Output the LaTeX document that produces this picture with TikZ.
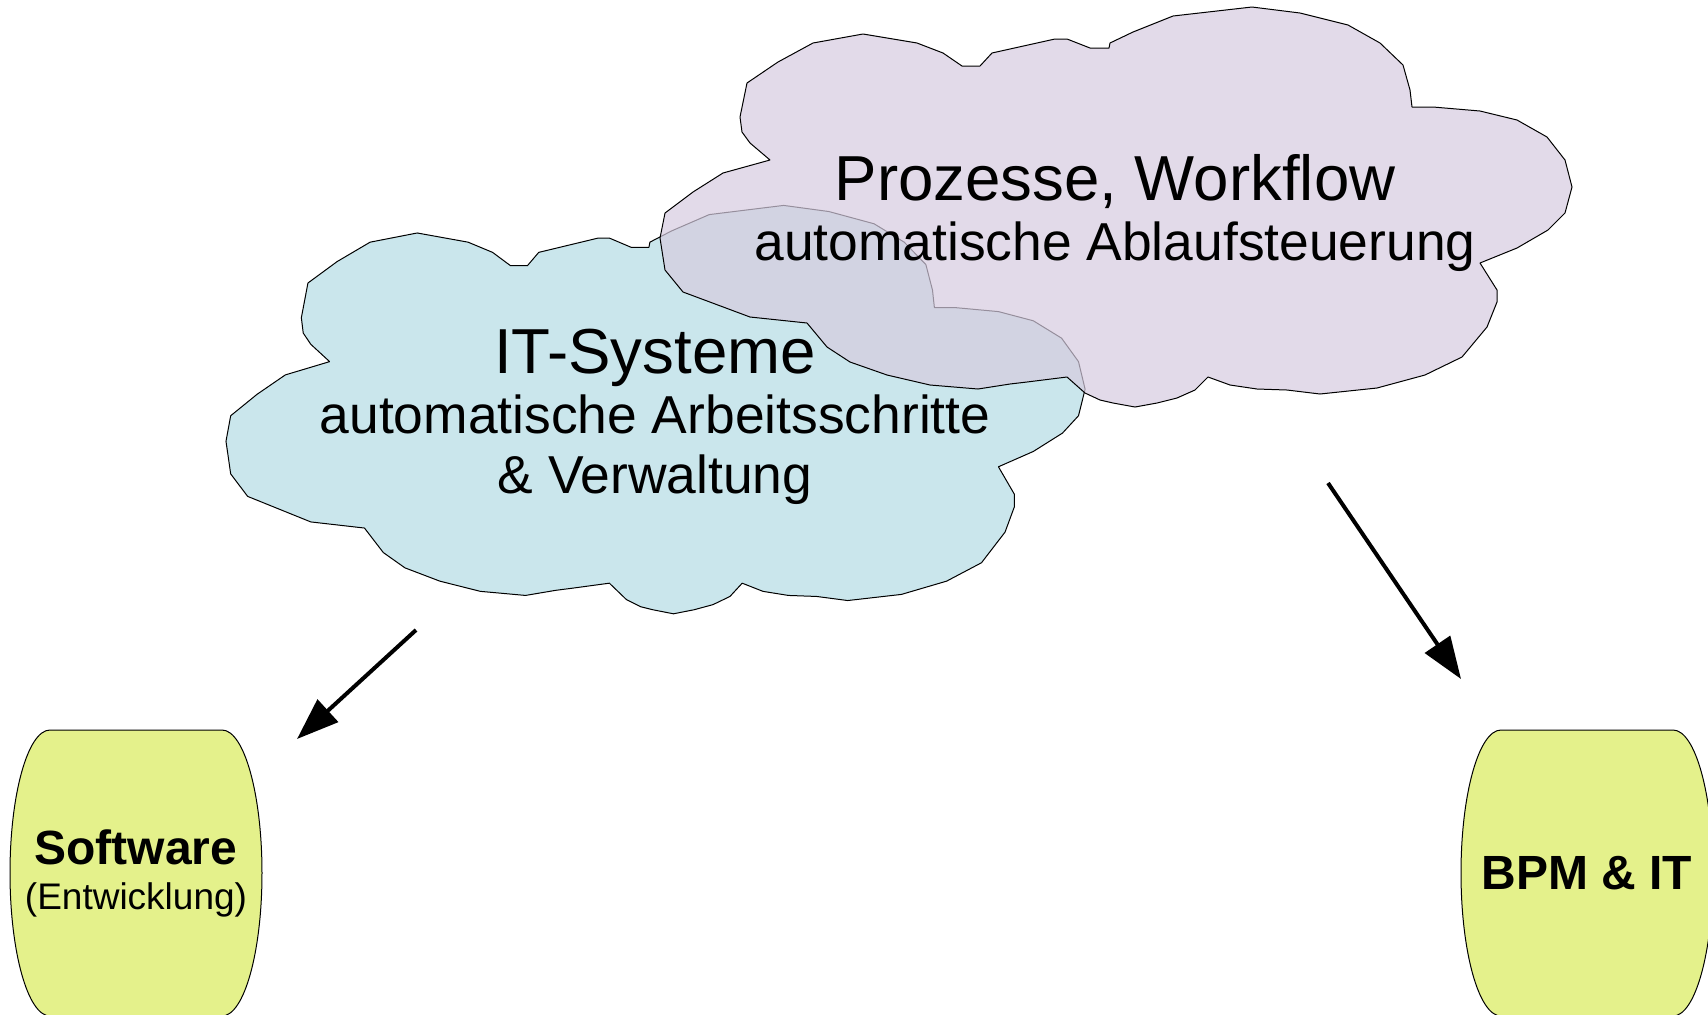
\documentclass[tikz,border=0pt]{standalone}
\usepackage{fontspec}
\setmainfont{Liberation Sans}
\usepackage{tikz}
\usetikzlibrary{arrows.meta, shapes, backgrounds}
\usepackage{xcolor}
\definecolor{paleblue}{RGB}{202,230,236}
\definecolor{lilac}{RGB}{214,203,223}
\definecolor{limegreen}{RGB}{228,241,139}
\tikzset{bluecloud/.style={fill=paleblue, draw=black, line width=0.5pt},
lilaccloud/.style={fill=lilac, draw=black, line width=0.5pt, fill opacity=0.7}}
\tikzset{barrelnode/.style={rectangle, minimum width=86pt, minimum height=143pt, inner sep=0pt, align=center},
barrelfill/.style={fill=limegreen, draw=black, line width=0.5pt}}
\tikzset{cloudshape/.pic={
    \path[pic actions] (-345,-47) -- (-365,-64) -- (-373,-75) -- (-375,-90) -- (-368,-124) -- (-337,-145) -- (-302,-164) -- (-252,-173) -- (-198,-164) -- (-172,-154) -- (-153,-141) -- (-135,-141) -- (-123,-154) -- (-60,-168) -- (-48,-168) -- (-25,-159) -- (-6,-159) -- (-5,-164) -- (18,-175) -- (58,-191) -- (137,-200) -- (185,-194) -- (233,-182) -- (265,-164) -- (288,-142) -- (295,-117) -- (297,-100) -- (318,-100) -- (365,-96) -- (402,-87) -- (432,-70) -- (450,-47) -- (457,-20) -- (450,6) -- (433,23) -- (402,41) -- (365,56) -- (382,83) -- (382,95) -- (372,120) -- (347,150) -- (310,168) -- (262,181) -- (205,187) -- (172,183) -- (142,182) -- (115,178) -- (93,170) -- (80,183) -- (62,191) -- (42,196) -- (20,200) -- (-2,196) -- (-15,193) -- (-30,186) -- (-48,170) -- (-88,175) -- (-105,177) -- (-137,182) -- (-185,178) -- (-228,168) -- (-265,155) -- (-288,140) -- (-308,116) -- (-365,110) -- (-432,85) -- (-450,63) -- (-455,31) -- (-450,6) -- (-422,-15) -- (-392,-34) -- cycle;
}}
\begin{document}
\begin{tikzpicture}[
        x=0.5pt, y=-0.5pt,
        line join=bevel,
        cloudtext/.style={align=center, anchor=base, inner sep=0pt, font=\fontsize{26.7}{30}\selectfont},
        flowarrow/.style={line width=2pt, -{Triangle[length=21pt, width=15pt]}}
    ]
        \useasboundingbox (0,0) rectangle (1708,1014);
        % Clouds
        \pic[bluecloud, xscale=0.942, yscale=1.021] at (654.6,409.6) {cloudshape};
        \pic[lilaccloud] at (1115,207) {cloudshape};
        \node (itsys) [cloudtext] at (655,493) {{\fontsize{31.8}{30}\selectfont IT-Systeme}\\automatische Arbeitsschritte\\\& Verwaltung};
        \node (prozesse) [cloudtext] at (1115,260) {{\fontsize{31.8}{30}\selectfont Prozesse, Workflow}\\automatische Ablaufsteuerung};
        % Barrels
        \node (software) [barrelnode, font=\fontsize{18.5}{22.5}\selectfont] at (136,873) {{\bfseries\fontsize{24}{22.5}\selectfont Software}\\(Entwicklung)};
        \node (bpmit) [barrelnode, font=\bfseries\fontsize{24}{22.5}\selectfont] at (1587,873) {BPM \& IT};
        \begin{scope}[on background layer]
            \foreach \barrel in {software, bpmit} {
                \path[barrelfill] ([xshift=-43pt, yshift=71.5pt]\barrel.center) -- ([xshift=43pt, yshift=71.5pt]\barrel.center) arc[start angle=90, end angle=-90, x radius=20pt, y radius=71.5pt] -- ([xshift=-43pt, yshift=-71.5pt]\barrel.center) arc[start angle=270, end angle=90, x radius=20pt, y radius=71.5pt] -- cycle;
            }
        \end{scope}
        % Arrows
        \coordinate (itfoot) at (416,630);
        \coordinate (swtip) at (297,739);
        \coordinate (prozessefoot) at (1328,483);
        \coordinate (bpmtip) at (1461,679);
        \draw[flowarrow] (itfoot) -- (swtip);
        \draw[flowarrow] (prozessefoot) -- (bpmtip);
\end{tikzpicture}
\end{document}
